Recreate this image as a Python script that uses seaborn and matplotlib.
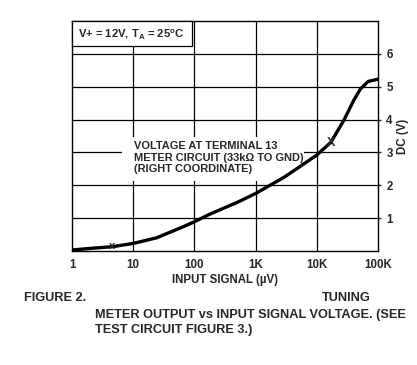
import numpy as np
import pandas as pd
import seaborn as sns
import matplotlib.pyplot as plt
from matplotlib.patches import Rectangle
from matplotlib.ticker import FixedLocator, NullLocator

# curve (input signal in uV, DC output in V)
signal_uv = [1, 2, 4.5, 10, 24, 66, 100, 178, 500, 1000, 2950, 5600,
             10000, 17000, 27500, 40000, 51500, 69000, 100000]
dc_volts = [0.03, 0.08, 0.13, 0.23, 0.40, 0.74, 0.89, 1.12, 1.48, 1.75, 2.25, 2.6,
            2.92, 3.31, 3.97, 4.58, 4.93, 5.16, 5.23]

x_ticks = [1, 10, 100, 1000, 10000, 100000]
x_labels = ['1', '10', '100', '1K', '10K', '100K']
y_ticks = [1, 2, 3, 4, 5, 6]

sns.set_style('white')
plt.rcParams['font.family'] = ['Liberation Sans', 'DejaVu Sans']
plt.rcParams['font.weight'] = 'bold'

df = pd.DataFrame({'signal': signal_uv, 'dc': dc_volts})

W, H = 417, 365
fig = plt.figure(figsize=(W / 100, H / 100), dpi=100)
ax = fig.add_axes([72 / W, 1 - 251 / H, 306 / W, 230 / H])

ax.set_xscale('log')
for v in x_ticks[1:-1]:
    ax.axvline(v, color='black', lw=0.9, zorder=1)
for v in y_ticks:
    ax.axhline(v, color='black', lw=0.9, zorder=1)

sns.lineplot(data=df, x='signal', y='dc', color='black', lw=2.4, ax=ax, zorder=3)

ax.set_xlim(1, 100000)
ax.set_ylim(0, 7)

ax.xaxis.set_major_locator(FixedLocator(x_ticks))
ax.xaxis.set_minor_locator(NullLocator())
ax.set_xticklabels(x_labels, fontsize=8.3, fontweight='bold')
ax.tick_params(axis='x', length=0, pad=6)

ax.yaxis.tick_right()
ax.yaxis.set_label_position('right')
ax.set_yticks(y_ticks)
ax.set_yticklabels([str(v) for v in y_ticks], fontsize=8.3, fontweight='bold')
ax.tick_params(axis='y', direction='out', length=2, width=1, pad=4, right=True, left=False)

ax.set_xlabel('INPUT SIGNAL (\u00b5V)', fontsize=8.3, fontweight='bold', labelpad=2)
ax.set_ylabel('DC (V)', fontsize=8.3, fontweight='bold', labelpad=3)

for s in ax.spines.values():
    s.set_color('black')
    s.set_linewidth(1.0)

# condition box in the top-left corner
ax.add_patch(Rectangle((0, 1 - 25 / 230), 120 / 306, 25 / 230, transform=ax.transAxes,
                       fc='white', ec='black', lw=0.9, zorder=5, clip_on=False))
ax.text(6 / 306, 1 - 13 / 230, 'V+ = 12V, T$_\\mathregular{A}$ = 25$^\\mathregular{o}$C',
        transform=ax.transAxes, ha='left', va='center', fontsize=8.1, fontweight='bold', zorder=6)

# white patch behind the curve label (grid is broken there in the original)
ax.add_patch(Rectangle((50 / 306, 1 - 160 / 230), 182 / 306, 44 / 230, transform=ax.transAxes,
                       fc='white', ec='none', zorder=2))
ax.text(62 / 306, 1 - 120 / 230, 'VOLTAGE AT TERMINAL 13\nMETER CIRCUIT (33k\u03a9 TO GND)\n(RIGHT COORDINATE)',
        transform=ax.transAxes, ha='left', va='top', fontsize=7.9, fontweight='bold',
        linespacing=1.2, zorder=4)

# little "X" markers on the curve
ax.text(4.5, 0.14, 'x', ha='center', va='center', fontsize=8, fontweight='bold', zorder=4)
ax.text(17000, 3.3, 'X', ha='center', va='center', fontsize=9, fontweight='bold', zorder=4)

cap = dict(ha='left', va='center', fontsize=9.2, fontweight='bold')
fig.text(24 / W, 1 - 298 / H, 'FIGURE 2.', **cap)
fig.text(322 / W, 1 - 298 / H, 'TUNING', **cap)
fig.text(95 / W, 1 - 315 / H, 'METER OUTPUT vs INPUT SIGNAL VOLTAGE. (SEE', **cap)
fig.text(95 / W, 1 - 330 / H, 'TEST CIRCUIT FIGURE 3.)', **cap)

fig.savefig('out.png', dpi=100)
